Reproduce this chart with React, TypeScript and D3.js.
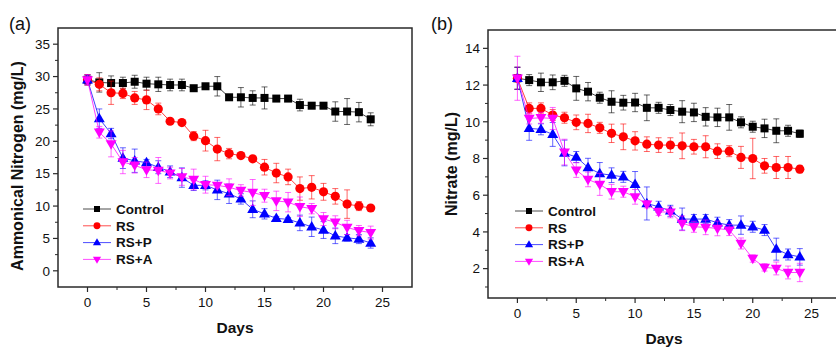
import React from "react";
import * as d3 from "d3";

const days = [0,1,2,3,4,5,6,7,8,9,10,11,12,13,14,15,16,17,18,19,20,21,22,23,24];

// Panel (a) Ammonical Nitrogen
const aControl = [29.5,29.1,29.0,29.0,29.2,28.9,28.8,28.7,28.7,28.2,28.5,28.5,26.8,26.8,26.7,26.7,26.6,26.6,25.6,25.5,25.5,24.6,24.6,24.5,23.4];
const aControlErr = [0.8,1.5,1.1,0.9,1.0,1.0,1.1,0.9,0.9,0.3,0.3,1.5,0.3,1.5,1.1,1.7,0.3,0.3,0.9,0.3,0.3,1.5,2.0,1.5,1.0];
const aRS = [29.5,28.8,27.5,27.4,26.7,26.4,25.0,23.1,22.9,20.8,20.1,18.8,18.1,17.8,17.3,16.0,15.1,14.5,12.7,12.9,12.2,11.5,10.3,10.0,9.7];
const aRSErr = [0.8,1.0,1.8,0.8,1.0,1.5,0.9,0.3,0.3,0.7,1.6,1.8,0.8,0.3,0.3,1.2,1.5,1.2,1.8,1.8,1.3,1.2,2.2,0.7,0.3];
const aRSP = [29.5,23.5,21.2,17.4,17.0,16.7,16.0,15.3,14.4,13.2,13.2,12.5,11.9,11.1,9.5,8.8,8.1,7.95,7.4,6.8,6.3,5.4,5.1,4.9,4.3];
const aRSPErr = [0.7,1.5,0.8,1.6,1.8,0.5,1.0,0.9,1.5,0.8,0.7,1.5,1.5,0.8,1.3,0.8,0.3,0.3,1.2,1.5,1.3,1.2,0.5,0.7,0.8];
const aRSA = [29.5,21.4,19.6,16.8,16.3,15.6,15.5,15.1,14.5,14.1,13.3,13.2,12.9,12.4,12.1,11.6,10.8,10.6,9.9,9.6,8.0,7.5,6.7,6.2,5.9];
const aRSAErr = [0.8,0.9,2.0,1.8,1.2,1.2,2.0,0.9,1.3,1.6,1.3,0.4,1.3,0.9,2.0,1.0,1.5,1.5,1.5,0.8,1.0,1.0,1.1,0.8,1.0];

// Panel (b) Nitrate
const bControl = [12.37,12.27,12.15,12.15,12.23,11.82,11.64,11.31,11.09,11.04,11.05,10.76,10.76,10.64,10.55,10.51,10.27,10.24,10.24,9.97,9.73,9.64,9.51,9.51,9.35];
const bControlErr = [0.6,0.3,0.5,0.4,0.3,0.65,0.5,0.3,0.6,0.4,0.5,0.7,0.3,0.3,0.6,0.5,0.5,0.5,0.7,0.3,0.3,0.5,0.65,0.3,0.2];
const bRS = [12.37,10.73,10.73,10.37,10.22,9.97,9.91,9.67,9.37,9.18,8.96,8.78,8.73,8.73,8.69,8.64,8.64,8.40,8.40,8.06,8.0,7.6,7.51,7.51,7.42];
const bRSErr = [0.6,0.3,0.3,0.3,0.3,0.4,0.5,0.3,0.5,0.7,0.5,0.4,0.4,0.4,0.7,0.4,0.6,0.4,0.3,0.6,1.1,0.4,0.6,0.6,0.2];
const bRSP = [12.37,9.64,9.59,9.31,8.3,8.08,7.51,7.18,7.09,7.0,6.59,5.55,5.37,5.15,4.7,4.7,4.7,4.5,4.37,4.37,4.28,4.1,3.06,2.77,2.64];
const bRSPErr = [0.6,0.65,0.3,0.65,0.7,0.3,0.5,0.6,0.4,0.3,0.7,0.9,0.3,0.3,0.6,0.25,0.25,0.3,0.3,0.5,0.3,0.3,0.6,0.3,0.45];
const bRSA = [12.37,10.18,10.22,10.18,8.35,7.37,6.86,6.59,6.19,6.19,5.91,5.51,5.1,5.07,4.47,4.28,4.25,4.19,4.10,3.37,2.55,2.07,2.01,1.79,1.79];
const bRSAErr = [1.2,0.3,0.3,0.6,0.7,0.4,0.4,0.6,0.4,0.3,0.4,0.2,0.2,0.3,0.4,0.3,0.4,0.4,0.3,0.3,0.2,0.2,0.35,0.35,0.5];

const seriesNames = ["Control", "RS", "RS+P", "RS+A"];
const seriesColors = ["#000000", "#ff0000", "#0000ff", "#ff00ff"];
const seriesShapes = ["square", "circle", "triangle", "down"];

const xTicks = [0, 5, 10, 15, 20, 25];
const aYTicks = [0, 5, 10, 15, 20, 25, 30, 35];
const bYTicks = [2, 4, 6, 8, 10, 12, 14];

const FONT = "'Liberation Sans', Arial, Helvetica, sans-serif";

function Marker({ shape, x, y, color, s = 1 }) {
  if (shape === "square") {
    const h = 4 * s;
    return <rect x={x - h} y={y - h} width={2 * h} height={2 * h} fill={color} />;
  }
  if (shape === "circle") {
    return <circle cx={x} cy={y} r={4.6 * s} fill={color} />;
  }
  const path = d3.symbol(d3.symbolTriangle, 52 * s * s)();
  return (
    <path
      d={path}
      fill={color}
      transform={`translate(${x},${y + (shape === "down" ? -0.5 : 0.5) * s}) rotate(${shape === "down" ? 180 : 0})`}
    />
  );
}

function Panel({ box, yDomain, yTicks, yMinorStep, label, labelPos, yTitle, yTitlePos, xTitlePos, tickLabelY, series, errs, legend }) {
  const x = d3.scaleLinear().domain([-2.5, 27.5]).range([box.left, box.right]);
  const y = d3.scaleLinear().domain(yDomain).range([box.bottom, box.top]);
  const xMinor = d3.range(-2.5, 27.6, 2.5).filter((v) => v > -2.5 && v < 27.5);
  const yMinor = [];
  for (let v = yTicks[0] - yMinorStep * 2; v <= yDomain[1]; v += yMinorStep) {
    if (v > yDomain[0] && v < yDomain[1]) yMinor.push(+v.toFixed(3));
  }
  const line = d3.line().x((d) => x(d[0])).y((d) => y(d[1]));
  const frameColor = "#2a2a2a";
  return (
    <g>
      <text x={labelPos[0]} y={labelPos[1]} fontSize={18} fontFamily={FONT} fill="#111">{label}</text>
      {series.map((vals, si) => {
        const color = seriesColors[si];
        const pts = days.map((d, i) => [d, vals[i]]);
        return (
          <g key={si}>
            <path d={line(pts)} fill="none" stroke={color} strokeWidth={1} strokeOpacity={0.75} />
            {days.map((d, i) => {
              const e = errs[si][i];
              const cx = x(d);
              return (
                <g key={i} stroke={color} strokeWidth={1} strokeOpacity={0.6}>
                  <line x1={cx} x2={cx} y1={y(vals[i] - e)} y2={y(vals[i] + e)} />
                  <line x1={cx - 3} x2={cx + 3} y1={y(vals[i] + e)} y2={y(vals[i] + e)} />
                  <line x1={cx - 3} x2={cx + 3} y1={y(vals[i] - e)} y2={y(vals[i] - e)} />
                </g>
              );
            })}
            {days.map((d, i) => (
              <Marker key={"m" + i} shape={seriesShapes[si]} x={x(d)} y={y(vals[i])} color={color} />
            ))}
          </g>
        );
      })}
      <rect x={box.left} y={box.top} width={box.right - box.left} height={box.bottom - box.top} fill="none" stroke={frameColor} strokeWidth={1.5} />
      {yTicks.map((t) => (
        <g key={"yt" + t}>
          <line x1={box.left - 5} x2={box.left} y1={y(t)} y2={y(t)} stroke={frameColor} strokeWidth={1.2} />
          <text x={box.left - 8} y={y(t)} dy="0.35em" textAnchor="end" fontSize={13.5} fontFamily={FONT} fill="#111">{t}</text>
        </g>
      ))}
      {yMinor.filter((v) => !yTicks.includes(v)).map((t) => (
        <line key={"ym" + t} x1={box.left - 3} x2={box.left} y1={y(t)} y2={y(t)} stroke={frameColor} strokeWidth={1} />
      ))}
      {xTicks.map((t) => (
        <g key={"xt" + t}>
          <line x1={x(t)} x2={x(t)} y1={box.bottom} y2={box.bottom + 5} stroke={frameColor} strokeWidth={1.2} />
          <text x={x(t)} y={tickLabelY} textAnchor="middle" fontSize={13.5} fontFamily={FONT} fill="#111">{t}</text>
        </g>
      ))}
      {xMinor.filter((v) => !xTicks.includes(v)).map((t) => (
        <line key={"xm" + t} x1={x(t)} x2={x(t)} y1={box.bottom} y2={box.bottom + 3} stroke={frameColor} strokeWidth={1} />
      ))}
      <text x={xTitlePos[0]} y={xTitlePos[1]} textAnchor="middle" fontSize={15.5} fontWeight="bold" fontFamily={FONT} fill="#111">Days</text>
      <text transform={`translate(${yTitlePos[0]},${yTitlePos[1]}) rotate(-90)`} textAnchor="middle" fontSize={16} fontWeight="bold" fontFamily={FONT} fill="#111">{yTitle}</text>
      {seriesNames.map((n, i) => {
        const ly = legend.y + i * 16.8;
        return (
          <g key={"lg" + i}>
            <line x1={legend.x} x2={legend.x + 28} y1={ly} y2={ly} stroke={seriesColors[i]} strokeWidth={1} strokeOpacity={0.7} />
            <Marker shape={seriesShapes[i]} x={legend.x + 14} y={ly} color={seriesColors[i]} s={0.75} />
            <text x={legend.x + 33} y={ly} dy="0.36em" fontSize={13.5} fontWeight="bold" fontFamily={FONT} fill="#111">{n}</text>
          </g>
        );
      })}
    </g>
  );
}

export default function App() {
  return (
    <svg width={836} height={347} style={{ position: "absolute", left: 0, top: 0, background: "#fff" }}>
      <rect width={836} height={347} fill="#fff" />
      <Panel
        box={{ left: 58, right: 412, top: 28, bottom: 287 }}
        yDomain={[-2.5, 37.5]}
        yTicks={aYTicks}
        yMinorStep={2.5}
        label="(a)"
        labelPos={[9, 30]}
        yTitle="Ammonical Nitrogen (mg/L)"
        yTitlePos={[23, 166]}
        xTitlePos={[235, 333]}
        tickLabelY={307}
        series={[aControl, aRS, aRSP, aRSA]}
        errs={[aControlErr, aRSErr, aRSPErr, aRSAErr]}
        legend={{ x: 83, y: 209 }}
      />
      <Panel
        box={{ left: 488, right: 841, top: 30, bottom: 298 }}
        yDomain={[0.4, 15]}
        yTicks={bYTicks}
        yMinorStep={1}
        label="(b)"
        labelPos={[431, 30]}
        yTitle="Nitrate (mg/L)"
        yTitlePos={[457, 164]}
        xTitlePos={[664, 344]}
        tickLabelY={318}
        series={[bControl, bRS, bRSP, bRSA]}
        errs={[bControlErr, bRSErr, bRSPErr, bRSAErr]}
        legend={{ x: 515, y: 211 }}
      />
    </svg>
  );
}
